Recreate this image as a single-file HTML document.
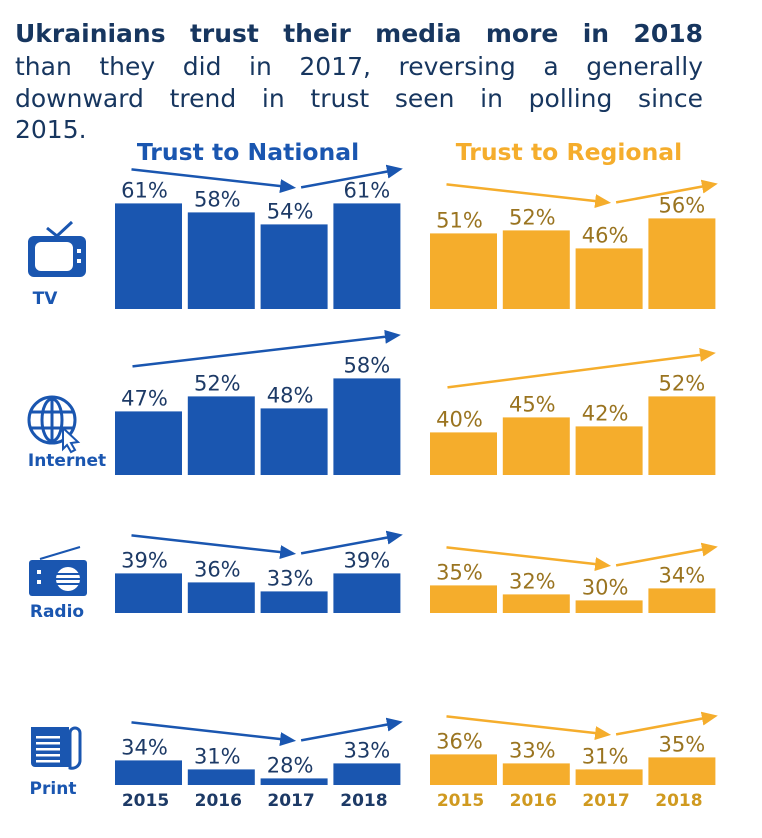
<!DOCTYPE html>
<html><head><meta charset="utf-8"><style>
body{margin:0;background:#fff;width:762px;height:838px;overflow:hidden;font-family:"DejaVu Sans","Liberation Sans",sans-serif}
.tl{position:absolute;left:15px;width:688px;font-size:25px;line-height:32px;color:#17365f;text-align:justify;text-align-last:justify;white-space:nowrap}
svg{position:absolute;left:0;top:0}
</style></head><body>
<div class="tl" style="top:18px"><b>Ukrainians trust their media more in 2018</b></div>
<div class="tl" style="top:51px">than they did in 2017, reversing a generally</div>
<div class="tl" style="top:83px">downward trend in trust seen in polling since</div>
<div class="tl" style="top:114px;text-align-last:left">2015.</div>
<svg id="chart" width="762" height="838">
<defs>
<marker id="ab" markerWidth="16" markerHeight="14" refX="12" refY="7" orient="auto" markerUnits="userSpaceOnUse"><path d="M0,0 L16,7 L0,14z" fill="#1a56b0"/></marker>
<marker id="ao" markerWidth="16" markerHeight="14" refX="12" refY="7" orient="auto" markerUnits="userSpaceOnUse"><path d="M0,0 L16,7 L0,14z" fill="#f5ad2c"/></marker>
</defs>
<text x="248" y="160" text-anchor="middle" font-size="23.5" font-weight="bold" fill="#1a56b0">Trust to National</text>
<text x="569" y="160" text-anchor="middle" font-size="23.5" font-weight="bold" fill="#f5ad2c">Trust to Regional</text>
<g id="icons">
<g fill="#1a56b0">
<rect x="28" y="236" width="58" height="41" rx="6"/><rect x="35" y="242" width="38" height="29" rx="6" fill="#fff"/>
<rect x="77" y="249" width="4" height="4" fill="#fff"/><rect x="77" y="259" width="4" height="4" fill="#fff"/>
<path d="M47,228 L57,236 L72,222" stroke="#1a56b0" stroke-width="3" fill="none"/></g>
<text x="45" y="304" text-anchor="middle" font-size="17" font-weight="bold" fill="#1a56b0">TV</text>
<g stroke="#1a56b0" fill="none" stroke-width="3">
<circle cx="52" cy="420" r="23"/><ellipse cx="52" cy="420" rx="10" ry="21"/><line x1="30" y1="412" x2="74" y2="412"/><line x1="30" y1="428" x2="74" y2="428"/><line x1="52" y1="398" x2="52" y2="442"/>
<path d="M63,428 L78,442 L71,443 L75,450 L71,452 L67,445 L63,449z" fill="#fff" stroke-width="2"/></g>
<text x="67" y="466" text-anchor="middle" font-size="17" font-weight="bold" fill="#1a56b0">Internet</text>
<g fill="#1a56b0">
<rect x="29" y="560" width="58" height="36" rx="3"/><line x1="40" y1="559" x2="80" y2="547" stroke="#1a56b0" stroke-width="2"/>
<rect x="37" y="570" width="4" height="4" fill="#fff"/><rect x="37" y="580" width="4" height="4" fill="#fff"/>
<circle cx="68" cy="579" r="12" fill="#fff"/><g stroke="#1a56b0" stroke-width="2"><line x1="55" y1="574" x2="81" y2="574"/><line x1="55" y1="579" x2="81" y2="579"/><line x1="55" y1="584" x2="81" y2="584"/></g></g>
<text x="57" y="617" text-anchor="middle" font-size="17" font-weight="bold" fill="#1a56b0">Radio</text>
<g fill="#1a56b0">
<path d="M31,727 h38 v40 h-34 a4,4 0 0 1 -4,-4z"/><path d="M70,733 a5,5 0 0 1 10,0 v28 a8,8 0 0 1 -10,7z" fill="none" stroke="#1a56b0" stroke-width="3"/>
<g fill="#fff"><rect x="36" y="736" width="24" height="2.5"/><rect x="36" y="742" width="24" height="2.5"/><rect x="36" y="748" width="24" height="2.5"/><rect x="36" y="754" width="24" height="2.5"/><rect x="36" y="760" width="24" height="2.5"/></g></g>
<text x="53" y="794" text-anchor="middle" font-size="17" font-weight="bold" fill="#1a56b0">Print</text>
</g>
<g id="marks"></g>
</svg>
<script>
const years=["2015","2016","2017","2018"];
const media=["tv","internet","radio","print"];
const national=[[61,58,54,61],[47,52,48,58],[39,36,33,39],[34,31,28,33]];
const regional=[[51,52,46,56],[40,45,42,52],[35,32,30,34],[36,33,31,35]];
const ns="http://www.w3.org/2000/svg";
const g=document.getElementById('marks');
const baselines=[309,475,613,785];
const groupX=[115,430];
const barW=67, step=72.8, scale=3, base=25.8;
function yH(v){return scale*(v-base);}
function mk(tag,attrs){const e=document.createElementNS(ns,tag);for(const k in attrs)e.setAttribute(k,attrs[k]);g.appendChild(e);return e;}
const groups=[national,regional];
const fills=["#1a56b0","#f5ad2c"], txt=["#1d3a66","#9a7420"];
groups.forEach((data,gi)=>{
  data.forEach((row,mi)=>{
    const b=baselines[mi];
    row.forEach((v,i)=>{
      const x=groupX[gi]+i*step, h=yH(v);
      const r=mk('rect',{x:x,y:b-h,width:barW,height:h,fill:fills[gi]});
      
      
      const t=mk('text',{x:x+barW/2+(i==3?0:-4),y:b-h-6,'text-anchor':'middle','font-size':21,fill:txt[gi]});
      t.textContent=v+'%';
      
      
    });
    const mx=i=>groupX[gi]+i*step+barW/2;
    const y0=b-yH(row[0])-35, y3=b-yH(row[3])-35;
    const col=fills[gi], m=gi?'url(#ao)':'url(#ab)';
    let a;
    if(mi==1){
      a=mk('line',{x1:mx(0)-16,y1:b-yH(row[0])-45,x2:mx(3)+30,y2:b-yH(row[3])-43,stroke:col,'stroke-width':2.5,'marker-end':m});
      
    } else {
      const ya=Math.min(y0,y3)+(mi==0?1:-3), yb=ya+18;
      a=mk('line',{x1:mx(0)-17,y1:ya,x2:mx(2)-2,y2:yb,stroke:col,'stroke-width':2.5,'marker-end':m});
      
      a=mk('line',{x1:mx(2)+7,y1:yb,x2:mx(3)+32,y2:ya,stroke:col,'stroke-width':2.5,'marker-end':m});
      
    }
  });
  years.forEach((y,i)=>{
    const t=mk('text',{x:groupX[gi]+i*step+barW/2-3,y:806,'text-anchor':'middle','font-size':17,'font-weight':'bold',fill:gi?'#d09a20':'#1d3a66'});
    t.textContent=y;
    
    
  });
});
</script>
</body></html>
